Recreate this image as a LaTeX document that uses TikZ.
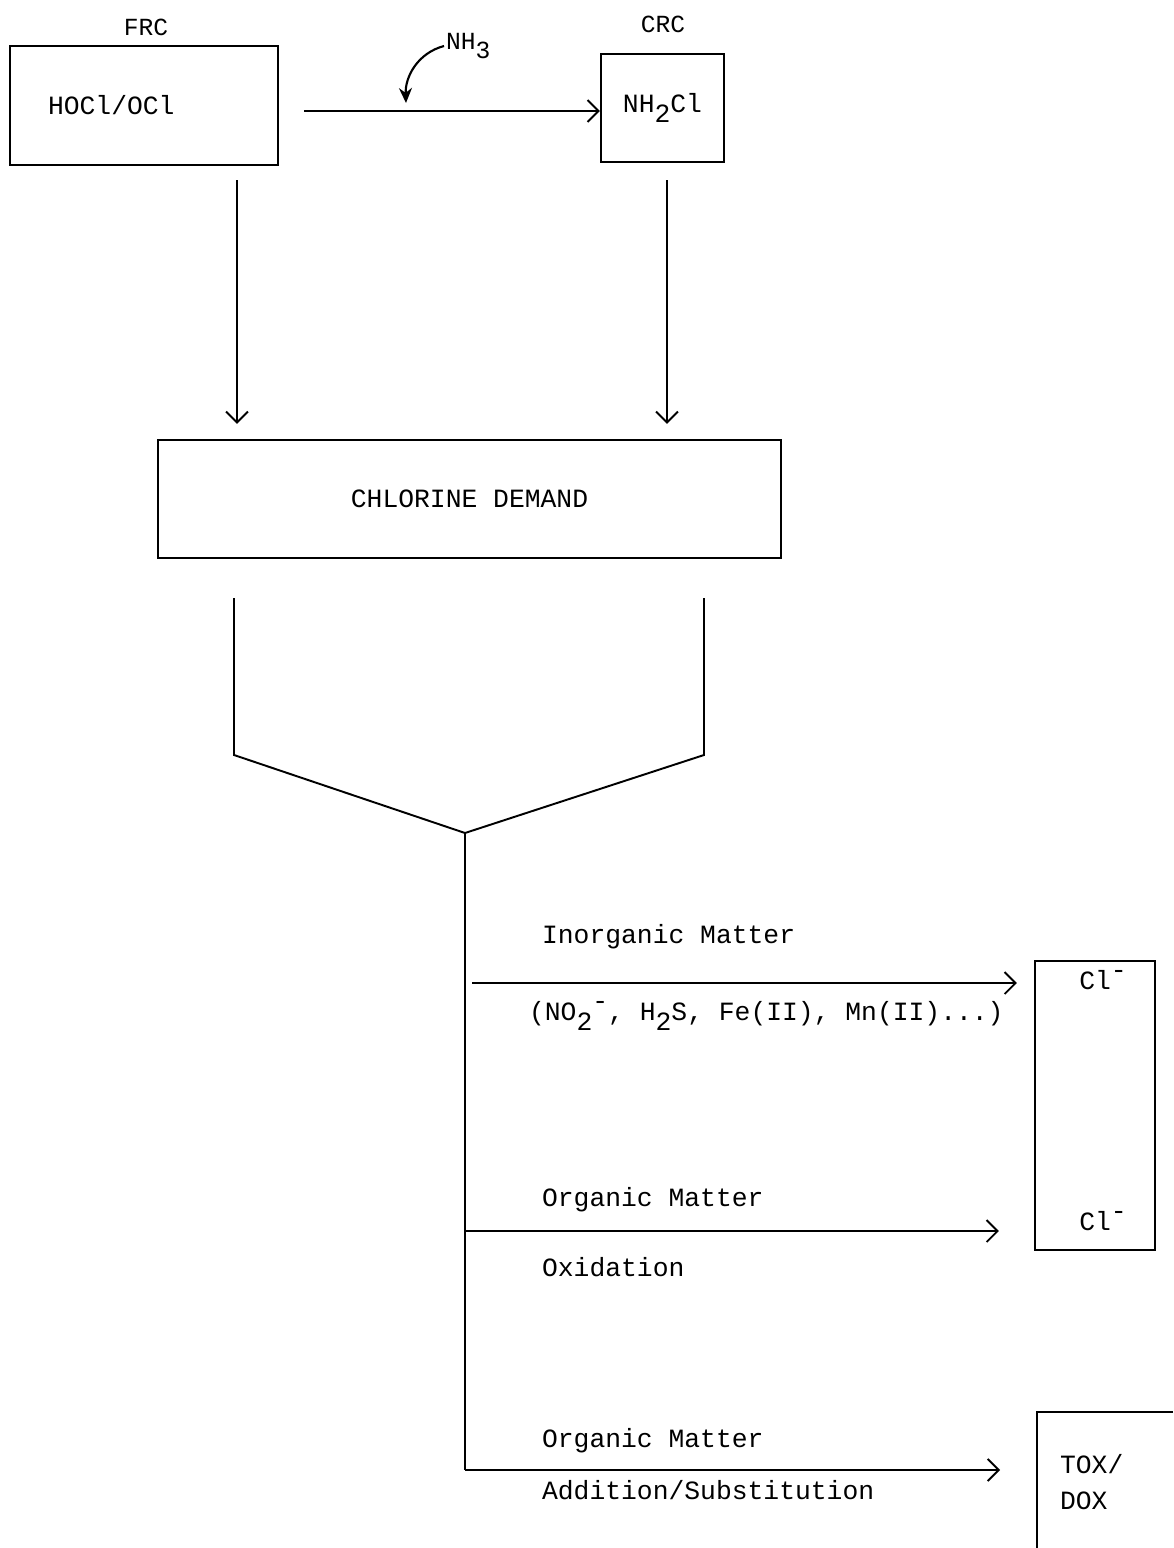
\documentclass[tikz,border=0pt]{standalone}
\usepackage{fontspec}
\setmonofont{Liberation Mono}
\usetikzlibrary{arrows.meta, positioning, calc}

\newcommand{\lowtxt}[1]{\raisebox{-0.75ex}{#1}}
\newcommand{\uptxt}[1]{\raisebox{0.8ex}{#1}}

\begin{document}
\begin{tikzpicture}[x=0.02cm, y=-0.02cm,
    box/.style={rectangle, draw, black, line width=1.2pt, align=center},
    lbl/.style={font=\ttfamily\fontsize{15}{20}\selectfont, inner sep=1pt},
    small/.style={font=\ttfamily\fontsize{14}{17}\selectfont, inner sep=1pt},
    flow/.style={draw, black, line width=1.1pt, -{Straight Barb[length=2.2mm, width=4.4mm]}},
    link/.style={draw, black, line width=1.1pt}]

    \useasboundingbox (0,0) rectangle (1173,1548);

    % --- Top boxes ---
    \node[box, lbl, minimum height=2.38cm, text width=3.84cm, inner xsep=0.76cm, align=left] (hocl) at (144,105.5) {HOCl/OCl};
    \node[small] (frc) at (146,27) {FRC};
    \node[box, lbl, minimum width=2.46cm, minimum height=2.16cm] (nhcl) at (662.5,108) {NH\lowtxt{2}Cl};
    \node[small] (crc) at (663,24) {CRC};
    \node[small, anchor=west] (nh3) at (444,46) {NH\lowtxt{3}};

    % --- HOCl -> NH2Cl ---
    \draw[flow] ([xshift=0.5cm, yshift=-0.06cm]hocl.east |- nhcl.west) -- ([yshift=-0.06cm]nhcl.west);
    \coordinate (nhtip) at (406,103);
    \draw[line width=1.2pt, -{Stealth[length=3mm, width=2.6mm]}] (nh3.west) to[out=195, in=92] (nhtip);

    % --- Chlorine demand ---
    \node[box, lbl, minimum width=12.46cm, minimum height=2.36cm] (demand) at (469.5,499) {CHLORINE DEMAND};
    \coordinate (frcout) at (237,180);
    \coordinate (crcout) at (667,180);
    \draw[flow] (frcout) -- ([yshift=0.3cm]frcout |- demand.north);
    \draw[flow] (crcout) -- ([yshift=0.3cm]crcout |- demand.north);

    % --- Funnel ---
    \coordinate (fl) at (234,598);
    \coordinate (fl2) at (234,755);
    \coordinate (fv) at (465,833);
    \coordinate (fr2) at (704,755);
    \coordinate (fr) at (704,598);
    \coordinate (fend) at (465,1470);
    \draw[link] (fl) -- (fl2) -- (fv) -- (fr2) -- (fr);
    \draw[link] (fv) -- (fend);

    % --- Products ---
    \node[box, minimum width=2.4cm, minimum height=5.78cm] (clbox) at (1095,1105.5) {};
    \node[lbl] (cla) at (1103,980) {Cl\uptxt{-}};
    \node[lbl] (clb) at (1103,1221) {Cl\uptxt{-}};
    \coordinate (toxtop) at (1173,1412);
    \coordinate (toxcorner) at (1037,1412);
    \coordinate (toxbot) at (1037,1548);
    \draw[link, line width=1.2pt] (toxtop) -- (toxcorner) -- (toxbot);
    \node[lbl, anchor=west, align=left] (tox) at (1058,1482) {TOX/\\DOX};

    % --- Branches ---
    \coordinate (b1) at (472,983);
    \coordinate (b2) at (465,1231);
    \draw[flow] (b1) -- ([xshift=-0.34cm]clbox.west |- b1);
    \draw[flow] (b2) -- ([xshift=-0.7cm]clbox.west |- b2);
    \draw[flow] (fend) -- ([xshift=-0.74cm]toxcorner |- fend);

    \node[lbl, anchor=west] (inorg) at (540,937) {Inorganic Matter};
    \node[lbl, anchor=west] (inorgex) at (527,1016) {(NO\lowtxt{2}\uptxt{-}, H\lowtxt{2}S, Fe(II), Mn(II)...)};
    \node[lbl, anchor=west] (orgox) at (540,1200) {Organic Matter};
    \node[lbl, anchor=west] (oxid) at (540,1267) {Oxidation};
    \node[lbl, anchor=west] (orgadd) at (540,1441) {Organic Matter};
    \node[lbl, anchor=west] (addsub) at (540,1490) {Addition/Substitution};

\end{tikzpicture}
\end{document}
